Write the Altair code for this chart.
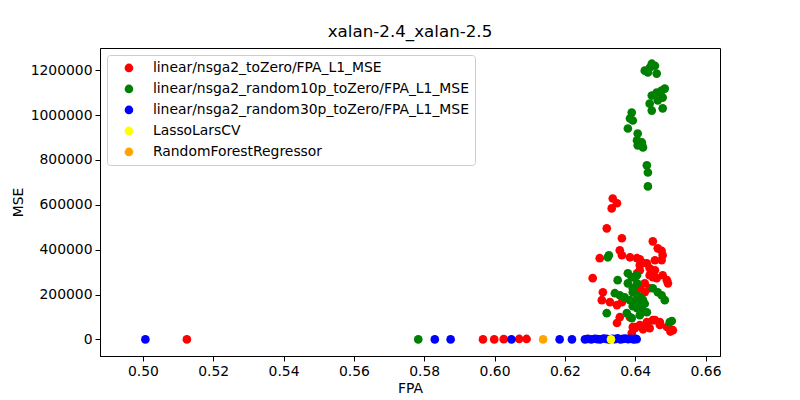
import altair as alt
import pandas as pd

# series names, in legend order
series = [
    "linear/nsga2_toZero/FPA_L1_MSE",
    "linear/nsga2_random10p_toZero/FPA_L1_MSE",
    "linear/nsga2_random30p_toZero/FPA_L1_MSE",
    "LassoLarsCV",
    "RandomForestRegressor",
]
colors = ["red", "green", "blue", "yellow", "orange"]

# linear/nsga2_toZero/FPA_L1_MSE
red_fpa = [0.5125, 0.5967, 0.5999, 0.6026, 0.6070, 0.6091,
           0.6336, 0.6348, 0.6333, 0.6319, 0.6362, 0.6450, 0.6464, 0.6356,
           0.6362, 0.6385, 0.6299, 0.6413, 0.6475, 0.6478, 0.6475, 0.6405,
           0.6419, 0.6413, 0.6441, 0.6456, 0.6478, 0.6490, 0.6493, 0.6450,
           0.6413, 0.6427, 0.6433, 0.6456, 0.6441, 0.6461, 0.6413, 0.6405,
           0.6279, 0.6308, 0.6305, 0.6328, 0.6348, 0.6362, 0.6427, 0.6441,
           0.6385, 0.6356, 0.6348, 0.6393, 0.6413, 0.6433, 0.6456, 0.6470,
           0.6450, 0.6470, 0.6490, 0.6507, 0.6399, 0.6390, 0.6422, 0.6441,
           0.6500, 0.6399]
red_mse = [0, 0, 0, 1000, 2000, 2000,
           628000, 607000, 584000, 495000, 451000, 437000, 406000, 397000,
           375000, 366000, 362000, 357000, 395000, 375000, 353000, 362000,
           344000, 331000, 317000, 308000, 286000, 264000, 250000, 277000,
           228000, 210000, 339000, 353000, 286000, 273000, 308000, 295000,
           273000, 210000, 175000, 166000, 153000, 166000, 250000, 228000,
           99000, 99000, 73000, 55000, 64000, 77000, 86000, 77000,
           86000, 64000, 55000, 41000, 50000, 28000, 45000, 50000,
           35000, 55000]

# linear/nsga2_random10p_toZero/FPA_L1_MSE
green_fpa = [0.5783,
             0.6427, 0.6441, 0.6447, 0.6456, 0.6461, 0.6436, 0.6484, 0.6475,
             0.6461, 0.6447, 0.6441, 0.6464, 0.6478, 0.6447, 0.6478, 0.6390,
             0.6385, 0.6393, 0.6379, 0.6407, 0.6405, 0.6419, 0.6422, 0.6407,
             0.6433, 0.6436, 0.6436,
             0.6322, 0.6325, 0.6350, 0.6379, 0.6390, 0.6405, 0.6379, 0.6393,
             0.6450, 0.6464, 0.6475, 0.6484, 0.6342, 0.6356, 0.6370, 0.6393,
             0.6405, 0.6413, 0.6422, 0.6399, 0.6413, 0.6427, 0.6405, 0.6419,
             0.6433, 0.6393, 0.6385, 0.6319, 0.6376, 0.6413, 0.6405, 0.6393,
             0.6498, 0.6504, 0.6390]
green_mse = [0,
             1198000, 1211000, 1229000, 1220000, 1185000, 1190000, 1118000, 1109000,
             1100000, 1087000, 1051000, 1065000, 1078000, 1020000, 1030000, 1011000,
             985000, 976000, 940000, 918000, 887000, 878000, 856000, 865000,
             776000, 744000, 682000,
             366000, 375000, 264000, 295000, 277000, 286000, 250000, 228000,
             228000, 210000, 197000, 175000, 206000, 197000, 188000, 210000,
             197000, 188000, 175000, 166000, 153000, 159000, 139000, 130000,
             121000, 148000, 175000, 117000, 117000, 108000, 250000, 277000,
             77000, 82000, 95000]

# linear/nsga2_random30p_toZero/FPA_L1_MSE
blue_fpa = [0.5007, 0.5830, 0.5875, 0.6048, 0.6185, 0.6220,
            0.6257, 0.6265, 0.6275, 0.6285, 0.6292, 0.6300, 0.6310, 0.6318,
            0.6325, 0.6335, 0.6342, 0.6350, 0.6358, 0.6365, 0.6372, 0.6380,
            0.6388, 0.6395, 0.6400, 0.6404]
blue_mse = [0, 0, 0, 0, 0, 0,
            0, 2000, 0, 3000, 1000, 0, 4000, 2000,
            0, 3000, 1000, 5000, 0, 2000, 4000, 1000,
            3000, 0, 2000, 1000]

# LassoLarsCV
yellow_fpa = [0.6331]
yellow_mse = [0]

# RandomForestRegressor
orange_fpa = [0.6138]
orange_mse = [0]

all_fpa = [red_fpa, green_fpa, blue_fpa, yellow_fpa, orange_fpa]
all_mse = [red_mse, green_mse, blue_mse, yellow_mse, orange_mse]

rows = []
for name, fpa, mse in zip(series, all_fpa, all_mse):
    for f, m in zip(fpa, mse):
        rows.append({"series": name, "FPA": f, "MSE": m})
df = pd.DataFrame(rows)

font = "DejaVu Sans"
fs = 13.9  # 10pt at 100 dpi

chart = alt.Chart(df).mark_circle(size=75, opacity=1).encode(
    x=alt.X("FPA:Q",
            scale=alt.Scale(domain=[0.4878, 0.6641], nice=False, zero=False),
            axis=alt.Axis(values=[0.50, 0.52, 0.54, 0.56, 0.58, 0.60, 0.62, 0.64, 0.66],
                          format=".2f", labelPadding=3, titlePadding=4)),
    y=alt.Y("MSE:Q",
            scale=alt.Scale(domain=[-74000, 1299000], nice=False, zero=False),
            axis=alt.Axis(values=[0, 200000, 400000, 600000, 800000, 1000000, 1200000],
                          format="d", labelPadding=3, titlePadding=5)),
    color=alt.Color("series:N",
                    scale=alt.Scale(domain=series, range=colors),
                    legend=alt.Legend(title="", orient="none", legendX=7, legendY=7,
                                      padding=6, symbolOffset=9, labelOffset=17,
                                      rowPadding=6, symbolType="circle", symbolSize=75,
                                      labelFontSize=fs, labelFont=font, labelColor="black",
                                      strokeColor="#cccccc", fillColor="rgba(255,255,255,0.8)",
                                      cornerRadius=3, labelLimit=400)),
).properties(
    width=620,
    height=308,
    autosize=alt.AutoSizeParams(type="none"),
    padding={"left": 92, "top": 40, "right": 72, "bottom": 44},
    title=alt.TitleParams("xalan-2.4_xalan-2.5", anchor="middle", fontSize=16.7,
                          fontWeight="normal", font=font, color="black", offset=7),
).configure_view(
    stroke="black",
    strokeWidth=1,
).configure_axis(
    grid=False,
    domainColor="black",
    tickColor="black",
    tickSize=5,
    labelFont=font,
    labelFontSize=fs,
    labelColor="black",
    titleFont=font,
    titleFontSize=fs,
    titleFontWeight="normal",
    titleColor="black",
)

chart.save("out.html", embed_options={"renderer": "svg", "actions": False})
